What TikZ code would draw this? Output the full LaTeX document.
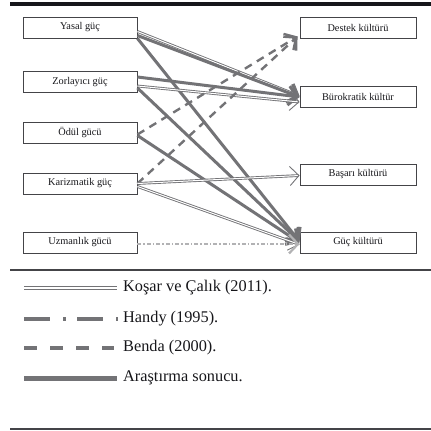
\documentclass[tikz,border=0pt]{standalone}
\usepackage{fontspec}
\setmainfont{Liberation Serif}
\usetikzlibrary{arrows.meta}

\definecolor{cizgi}{RGB}{115,115,118}
\definecolor{cerceve}{RGB}{68,68,72}
\definecolor{siyah}{RGB}{22,22,26}

\tikzset{
  kutu/.style={draw=cerceve, line width=0.9pt, minimum width=114pt,
    minimum height=21pt, inner sep=0pt, text=siyah, font=\fontsize{10.3}{12}\selectfont},
  ok/.style={-{Straight Barb[length=9pt,width=19pt]}},
  kosar/.style={draw=cizgi, double=white, double distance=1pt, line width=0.9pt},
  handy/.style={draw=cizgi!55, line width=2.2pt, dash pattern=on 4pt off 2pt on 1.5pt off 2pt},
  benda/.style={draw=cizgi, line width=2.4pt, dash pattern=on 8pt off 6pt},
  arastirma/.style={draw=cizgi, line width=3pt},
  aciklama/.style={anchor=west, inner sep=1pt, text=siyah, font=\fontsize{16.3}{18}\selectfont}
}

\begin{document}
\begin{tikzpicture}[x=1pt, y=-1pt]
\useasboundingbox (0,0) rectangle (431,431);

% Cetveller
\draw[line width=3.5pt, siyah] (10,4) -- (431,4);
\draw[line width=1.2pt, cerceve] (10,270) -- (431,270);
\draw[line width=1.2pt, cerceve] (10,429) -- (431,429);

% Guc turleri
\node[kutu] (yasal) at (80,27.5) {Yasal güç};
\node[kutu] (zorlayici) at (80,82) {Zorlayıcı güç};
\node[kutu] (odul) at (80,132.5) {Ödül gücü};
\node[kutu] (karizmatik) at (80,183.5) {Karizmatik güç};
\node[kutu] (uzmanlik) at (80,242.5) {Uzmanlık gücü};

% Kulturler
\node[kutu, minimum width=116pt] (destek) at (358,27.5) {Destek kültürü};
\node[kutu, minimum width=116pt] (burokratik) at (358,97) {Bürokratik kültür};
\node[kutu, minimum width=116pt] (basari) at (358,174.5) {Başarı kültürü};
\node[kutu, minimum width=116pt] (gucK) at (358,242.5) {Güç kültürü};

% Oklar
\draw[kosar, ok] ([yshift=-4pt]yasal.east) -- ([yshift=1pt]burokratik.west);
\draw[arastirma, ok] ([yshift=-8pt]yasal.east) -- (burokratik.west);
\draw[arastirma, ok] (yasal.south east) -- ([yshift=1pt]gucK.west);

\draw[arastirma, ok] ([yshift=5pt]zorlayici.east) -- (burokratik.west);
\draw[kosar, ok] ([yshift=-4pt]zorlayici.east) -- ([yshift=-5pt]burokratik.west);
\draw[arastirma, ok] ([yshift=-6pt]zorlayici.east) -- ([yshift=1pt]gucK.west);

\draw[benda, ok] ([yshift=-2pt]odul.east) -- ([xshift=-2pt,yshift=2pt]destek.south west);
\draw[arastirma, ok] ([yshift=-3pt]odul.east) -- (gucK.west);

\draw[benda, ok] (karizmatik.east) -- ([xshift=-2pt,yshift=2pt]destek.south west);
\draw[kosar, ok] (karizmatik.east) -- ([yshift=-1pt]basari.west);
\draw[kosar, ok] ([yshift=-3pt]karizmatik.east) -- ([yshift=-2pt]gucK.west);

\draw[handy, ok] ([yshift=-1.5pt]uzmanlik.east) -- ([yshift=-1.5pt]gucK.west);

% Aciklama
\node[aciklama] (kosarT) at (122,288) {Koşar ve Çalık (2011).};
\node[aciklama] (handyT) at (122,319) {Handy (1995).};
\node[aciklama] (bendaT) at (122,348) {Benda (2000).};
\node[aciklama] (arastirmaT) at (122,378) {Araştırma sonucu.};

\draw[kosar, line width=1.2pt, double distance=1.4pt] (24,288) -- ([xshift=-5pt]kosarT.west);
\draw[cizgi, line width=3.5pt, dash pattern=on 26pt off 13pt on 3pt off 11pt] (24,319) -- ([xshift=-4pt]handyT.west);
\draw[cizgi, line width=3.5pt, dash pattern=on 13pt off 13pt] (24,348) -- ([xshift=-8pt]bendaT.west);
\draw[cizgi, line width=5pt] (24,378) -- ([xshift=-5pt]arastirmaT.west);
\end{tikzpicture}
\end{document}
